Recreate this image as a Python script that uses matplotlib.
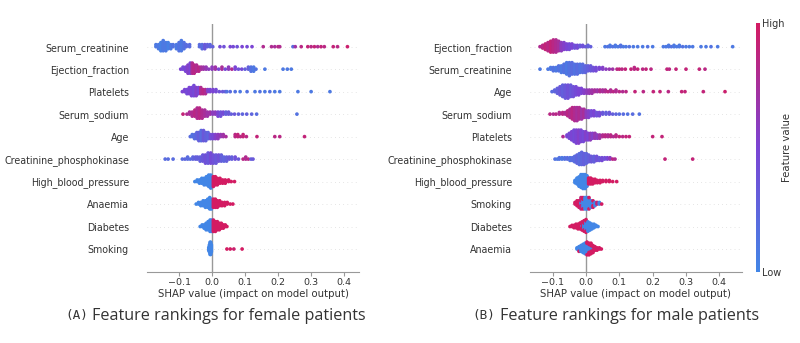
import numpy as np
import matplotlib; matplotlib.use("Agg")
import matplotlib.pyplot as plt
from matplotlib.colors import LinearSegmentedColormap

# each tuple: (shap value, number of points there, feature value 0=low 1=high)
FEMALE_FEATURES = ["Serum_creatinine", "Ejection_fraction", "Platelets", "Serum_sodium", "Age",
                   "Creatinine_phosphokinase", "High_blood_pressure", "Anaemia", "Diabetes", "Smoking"]
MALE_FEATURES = ["Ejection_fraction", "Serum_creatinine", "Age", "Serum_sodium", "Platelets",
                 "Creatinine_phosphokinase", "High_blood_pressure", "Smoking", "Diabetes", "Anaemia"]

F_SERUM_CREATININE = [(-0.170,2,0.1),(-0.162,3,0.1),(-0.155,5,0.05),(-0.148,6,0.1),(-0.140,5,0.1),(-0.133,4,0.05),
    (-0.125,3,0.1),(-0.118,2,0.15),(-0.108,3,0.1),(-0.100,5,0.15),(-0.093,6,0.1),(-0.085,4,0.15),(-0.078,2,0.2),
    (-0.068,2,0.2),(-0.038,2,0.2),(-0.030,3,0.2),(-0.022,3,0.35),(-0.014,2,0.3),(-0.006,2,0.25),(0.002,1,0.3),
    (0.024,1,0.45),(0.036,1,0.4),(0.055,1,0.5),(0.064,1,0.45),(0.076,1,0.4),(0.091,1,0.5),(0.106,1,0.45),(0.121,1,0.5),
    (0.155,1,0.8),(0.180,1,0.8),(0.190,1,0.75),(0.200,1,0.85),(0.205,1,0.8),(0.245,1,0.2),(0.252,1,0.7),(0.270,1,0.85),
    (0.290,1,0.9),(0.300,1,0.85),(0.310,1,0.9),(0.320,1,0.8),(0.330,1,0.9),(0.340,1,0.85),(0.367,1,0.9),(0.380,1,0.85),
    (0.410,1,0.95)]
F_EJECTION_FRACTION = [(-0.095,1,0.5),(-0.088,2,0.45),(-0.080,3,0.5),(-0.073,5,0.55),(-0.066,6,0.5),(-0.060,6,0.8),
    (-0.054,5,0.85),(-0.047,4,0.8),(-0.040,3,0.85),(-0.033,2,0.75),(-0.026,2,0.7),(-0.018,2,0.65),(-0.010,1,0.6),
    (0.000,2,0.6),(0.010,2,0.7),(0.020,1,0.5),(0.030,2,0.75),(0.040,1,0.45),(0.050,2,0.6),(0.060,1,0.8),(0.070,2,0.5),
    (0.080,1,0.4),(0.090,1,0.45),(0.100,1,0.3),(0.110,2,0.3),(0.118,3,0.15),(0.126,3,0.1),(0.133,1,0.15),
    (0.160,1,0.1),(0.215,1,0.1),(0.228,1,0.1),(0.240,1,0.1)]
F_PLATELETS = [(-0.090,1,0.5),(-0.083,2,0.5),(-0.076,3,0.45),(-0.069,4,0.5),(-0.062,5,0.5),(-0.055,6,0.45),
    (-0.048,5,0.55),(-0.041,4,0.5),(-0.034,4,0.8),(-0.027,3,0.85),(-0.020,3,0.8),(-0.013,2,0.55),(-0.006,2,0.5),
    (0.003,2,0.5),(0.012,2,0.45),(0.022,1,0.4),(0.032,1,0.35),(0.040,1,0.3),(0.045,1,0.15),(0.055,1,0.2),(0.070,1,0.15),
    (0.085,1,0.1),(0.106,1,0.15),(0.130,1,0.1),(0.145,1,0.15),(0.160,1,0.1),(0.175,1,0.15),(0.190,1,0.1),(0.205,1,0.1),
    (0.260,1,0.1),(0.300,1,0.1),(0.357,1,0.1)]
F_SERUM_SODIUM = [(-0.088,1,0.9),(-0.076,1,0.8),(-0.068,2,0.75),(-0.060,3,0.8),(-0.052,4,0.85),(-0.045,6,0.8),
    (-0.038,6,0.85),(-0.030,5,0.8),(-0.022,4,0.75),(-0.014,3,0.7),(-0.006,2,0.7),(0.002,2,0.6),(0.010,2,0.6),
    (0.018,3,0.5),(0.026,3,0.4),(0.034,2,0.45),(0.042,2,0.3),(0.050,2,0.35),(0.058,1,0.3),(0.068,1,0.35),(0.080,1,0.3),
    (0.092,1,0.25),(0.105,1,0.3),(0.120,1,0.25),(0.135,1,0.2),(0.257,1,0.15)]
F_AGE = [(-0.066,1,0.2),(-0.060,2,0.15),(-0.053,3,0.2),(-0.046,4,0.25),(-0.040,5,0.3),(-0.033,6,0.2),(-0.026,6,0.35),
    (-0.019,5,0.3),(-0.012,4,0.25),(-0.005,3,0.4),(0.002,3,0.45),(0.010,3,0.55),(0.018,3,0.6),(0.026,2,0.65),
    (0.034,2,0.7),(0.042,1,0.75),(0.070,2,0.85),(0.078,2,0.9),(0.086,1,0.85),(0.094,2,0.9),(0.104,1,0.85),
    (0.136,1,0.9),(0.190,1,0.85),(0.205,1,0.85),(0.280,1,0.9)]
F_CPK = [(-0.142,1,0.2),(-0.133,1,0.2),(-0.118,1,0.2),(-0.090,1,0.2),(-0.082,1,0.25),(-0.074,2,0.2),(-0.066,1,0.2),
    (-0.058,2,0.25),(-0.050,2,0.3),(-0.044,2,0.3),(-0.036,3,0.3),(-0.028,4,0.35),(-0.020,5,0.4),(-0.012,6,0.35),
    (-0.004,6,0.45),(0.004,5,0.4),(0.012,5,0.35),(0.020,4,0.4),(0.028,4,0.3),(0.036,3,0.25),(0.044,3,0.3),
    (0.052,2,0.35),(0.060,2,0.3),(0.070,2,0.4),(0.080,1,0.35),(0.094,1,0.85),(0.102,2,0.8),(0.110,1,0.85),
    (0.118,1,0.3),(0.124,1,0.35)]
F_HBP = [(-0.052,1,0),(-0.045,2,0),(-0.038,3,0),(-0.031,4,0),(-0.024,5,0),(-0.017,6,0),(-0.010,8,0),(-0.004,9,0),
    (0.004,7,1),(0.010,6,1),(0.016,5,1),(0.024,4,1),(0.032,3,1),(0.040,3,1),(0.050,2,1),(0.058,1,1),(0.068,1,1)]
F_ANAEMIA = [(-0.048,1,0),(-0.041,2,0),(-0.034,3,0),(-0.027,4,0),(-0.020,5,0),(-0.013,6,0),(-0.007,8,0),(-0.002,7,0),
    (0.004,6,1),(0.010,6,1),(0.016,5,1),(0.023,4,1),(0.030,3,1),(0.038,3,1),(0.046,2,1),(0.055,1,1),(0.063,1,1)]
F_DIABETES = [(-0.036,1,0),(-0.030,2,0),(-0.024,3,0),(-0.018,5,0),(-0.012,6,0),(-0.006,8,0),(-0.001,8,0),
    (0.004,8,1),(0.010,7,1),(0.016,6,1),(0.022,5,1),(0.028,4,1),(0.034,3,1),(0.040,2,1),(0.045,1,1)]
F_SMOKING = [(-0.010,3,0),(-0.008,6,0),(-0.006,10,0),(-0.004,10,0),(-0.002,6,0),
    (0.045,1,1),(0.055,1,1),(0.066,1,0.95),(0.091,1,1)]

M_EJECTION_FRACTION = [(-0.138,1,0.8),(-0.130,3,0.85),(-0.122,5,0.9),(-0.114,7,0.85),(-0.106,9,0.9),(-0.098,10,0.85),
    (-0.090,10,0.8),(-0.082,8,0.75),(-0.074,7,0.6),(-0.066,6,0.55),(-0.058,5,0.5),(-0.050,5,0.45),(-0.042,4,0.5),
    (-0.034,3,0.4),(-0.026,3,0.45),(-0.018,2,0.35),(-0.010,2,0.4),(-0.002,1,0.35),(0.006,2,0.3),(0.014,1,0.3),
    (0.057,1,0.1),(0.065,1,0.15),(0.072,2,0.1),(0.080,1,0.15),(0.088,2,0.1),(0.096,1,0.1),(0.104,2,0.15),(0.112,1,0.1),
    (0.120,1,0.1),(0.130,1,0.15),(0.142,1,0.1),(0.155,1,0.1),(0.170,1,0.1),(0.185,1,0.15),(0.200,1,0.1),
    (0.232,1,0.1),(0.240,1,0.1),(0.248,2,0.1),(0.256,1,0.15),(0.264,2,0.1),(0.272,1,0.1),(0.280,2,0.1),(0.290,1,0.15),
    (0.300,1,0.1),(0.310,1,0.1),(0.320,1,0.1),(0.345,1,0.1),(0.360,1,0.1),(0.375,1,0.15),(0.395,1,0.1),(0.440,1,0.1)]
M_SERUM_CREATININE = [(-0.138,1,0.1),(-0.114,1,0.1),(-0.106,2,0.1),(-0.098,3,0.15),(-0.090,3,0.1),(-0.082,4,0.15),
    (-0.074,5,0.1),(-0.066,6,0.15),(-0.058,8,0.1),(-0.050,9,0.15),(-0.042,8,0.2),(-0.034,7,0.15),(-0.026,7,0.2),
    (-0.018,6,0.15),(-0.010,6,0.2),(-0.002,5,0.25),(0.006,4,0.3),(0.014,4,0.35),(0.022,3,0.4),(0.030,3,0.45),
    (0.040,2,0.5),(0.050,2,0.55),(0.060,1,0.6),(0.070,1,0.65),(0.080,1,0.7),(0.093,1,0.85),(0.100,1,0.9),
    (0.108,1,0.85),(0.118,1,0.9),(0.135,1,0.9),(0.145,2,0.85),(0.155,1,0.9),(0.170,1,0.85),(0.180,1,0.9),
    (0.195,1,0.85),(0.243,1,0.9),(0.250,1,0.85),(0.270,1,0.9),(0.300,1,0.9),(0.340,1,0.9),(0.357,1,0.85)]
M_AGE = [(-0.102,1,0.2),(-0.094,2,0.25),(-0.086,4,0.3),(-0.078,6,0.35),(-0.070,8,0.3),(-0.062,9,0.35),(-0.054,9,0.4),
    (-0.046,8,0.35),(-0.038,7,0.4),(-0.030,6,0.45),(-0.022,5,0.5),(-0.014,4,0.5),(-0.006,3,0.55),(0.002,3,0.6),
    (0.010,3,0.65),(0.018,3,0.7),(0.026,2,0.75),(0.034,2,0.7),(0.042,2,0.8),(0.050,2,0.75),(0.058,2,0.8),
    (0.066,1,0.85),(0.074,2,0.8),(0.082,1,0.85),(0.090,2,0.8),(0.100,1,0.85),(0.110,1,0.8),(0.120,1,0.85),
    (0.147,1,0.9),(0.172,1,0.85),(0.202,1,0.9),(0.222,1,0.9),(0.247,1,0.85),(0.287,1,0.9),(0.297,1,0.9),
    (0.352,1,0.9),(0.417,1,0.95)]
M_SERUM_SODIUM = [(-0.108,1,0.85),(-0.098,1,0.8),(-0.090,1,0.85),(-0.080,2,0.8),(-0.070,2,0.85),(-0.062,2,0.8),
    (-0.055,4,0.85),(-0.048,6,0.8),(-0.041,8,0.85),(-0.034,9,0.8),(-0.027,9,0.75),(-0.020,8,0.8),(-0.013,7,0.7),
    (-0.006,6,0.75),(0.001,5,0.6),(0.008,5,0.55),(0.016,4,0.45),(0.024,4,0.5),(0.032,3,0.4),(0.040,3,0.45),
    (0.050,2,0.35),(0.060,2,0.3),(0.070,2,0.35),(0.080,1,0.3),(0.090,1,0.25),(0.100,1,0.2),(0.112,1,0.2),
    (0.125,1,0.15),(0.140,1,0.2),(0.160,1,0.15)]
M_PLATELETS = [(-0.069,1,0.8),(-0.057,2,0.5),(-0.050,4,0.45),(-0.043,6,0.5),(-0.036,8,0.45),(-0.029,9,0.5),
    (-0.022,9,0.55),(-0.015,8,0.5),(-0.008,7,0.45),(-0.001,6,0.55),(0.006,5,0.5),(0.013,5,0.6),(0.020,4,0.55),
    (0.027,4,0.65),(0.034,3,0.6),(0.041,3,0.7),(0.050,2,0.8),(0.058,2,0.85),(0.066,2,0.8),(0.074,2,0.85),
    (0.082,1,0.8),(0.090,2,0.85),(0.100,1,0.9),(0.110,1,0.85),(0.120,1,0.9),(0.130,1,0.9),(0.200,1,0.9),(0.228,1,0.9)]
M_CPK = [(-0.093,1,0.15),(-0.086,1,0.1),(-0.080,2,0.15),(-0.072,2,0.1),(-0.064,2,0.15),(-0.056,2,0.2),(-0.048,3,0.15),
    (-0.041,3,0.2),(-0.034,5,0.2),(-0.027,7,0.25),(-0.020,9,0.2),(-0.013,10,0.25),(-0.006,9,0.3),(0.001,8,0.25),
    (0.008,6,0.3),(0.016,5,0.35),(0.024,5,0.3),(0.032,4,0.4),(0.040,3,0.35),(0.048,3,0.45),(0.056,2,0.4),
    (0.064,2,0.5),(0.072,2,0.6),(0.080,1,0.85),(0.087,1,0.8),(0.237,1,0.9),(0.320,1,0.9)]
M_HBP = [(-0.033,3,0),(-0.027,6,0),(-0.021,9,0),(-0.015,12,0),(-0.009,13,0),(-0.003,13,0),(0.003,10,0),
    (0.008,6,1),(0.014,6,1),(0.020,5,1),(0.027,4,1),(0.034,3,1),(0.042,3,1),(0.050,2,1),(0.060,2,1),(0.070,2,1),
    (0.080,1,1),(0.092,1,1)]
M_SMOKING = [(-0.033,2,1),(-0.027,4,1),(-0.021,5,1),(-0.015,2,0),(-0.015,6,0.9),(-0.009,5,0),(-0.009,3,1),
    (-0.003,8,0),(0.003,8,0),(0.009,6,0),(0.009,2,1),(0.015,5,0),(0.021,2,0),(0.021,3,1),(0.027,3,0),(0.033,2,0.9),
    (0.040,2,0),(0.047,1,1)]
M_DIABETES = [(-0.048,1,1),(-0.042,2,1),(-0.036,3,1),(-0.030,4,1),(-0.024,5,1),(-0.018,6,1),(-0.012,2,0),(-0.012,6,1),
    (-0.006,5,0),(-0.006,5,1),(0.000,8,0),(0.000,4,1),(0.006,9,0),(0.012,7,0),(0.018,5,0),(0.024,4,0),(0.030,2,0),
    (0.036,1,0)]
M_ANAEMIA = [(-0.027,2,0),(-0.021,4,0),(-0.021,1,1),(-0.015,6,0),(-0.009,8,0),(-0.003,10,0),(0.003,9,0),(0.003,3,1),
    (0.009,6,0),(0.009,5,1),(0.015,4,0),(0.015,6,1),(0.021,2,0),(0.021,5,1),(0.027,4,1),(0.033,3,1),(0.040,2,1),
    (0.046,1,1)]

FEMALE = [F_SERUM_CREATININE, F_EJECTION_FRACTION, F_PLATELETS, F_SERUM_SODIUM, F_AGE,
          F_CPK, F_HBP, F_ANAEMIA, F_DIABETES, F_SMOKING]
MALE = [M_EJECTION_FRACTION, M_SERUM_CREATININE, M_AGE, M_SERUM_SODIUM, M_PLATELETS,
        M_CPK, M_HBP, M_SMOKING, M_DIABETES, M_ANAEMIA]

CMAP = LinearSegmentedColormap.from_list("rb", ["#4286e6", "#7b44d4", "#d31b62"])
GREY = "#333333"


def swarm_offsets(xs, row_height=0.4, nbins=100):
    # shap-style beeswarm: stack points that fall into the same x bin
    quant = np.round(nbins*(xs-xs.min())/(xs.max()-xs.min()+1e-8))
    ys = np.zeros(len(xs)); layer = 0; last = None
    for i in np.argsort(quant, kind="stable"):
        if quant[i] != last: layer = 0
        ys[i] = np.ceil(layer/2)*((layer % 2)*2-1)
        layer += 1; last = quant[i]
    return ys*0.9*(row_height/np.max(ys+1))


def beeswarm(ax, rows, names, xlim):
    n = len(names)
    for k, pts in enumerate(rows):
        pos = n-1-k
        xs = np.repeat([p[0] for p in pts], [p[1] for p in pts])
        cs = np.repeat([p[2] for p in pts], [p[1] for p in pts])
        ax.axhline(pos, color="#cccccc", lw=0.5, dashes=(1, 5), zorder=-1)
        ax.scatter(xs, pos+swarm_offsets(xs), c=cs, cmap=CMAP, vmin=0, vmax=1, s=7, linewidths=0, zorder=3)
    ax.axvline(0, color="#999999", lw=1, zorder=1)
    ax.set_yticks(range(n)); ax.set_yticklabels(names[::-1])
    ax.set_ylim(-1, n); ax.set_xlim(*xlim)
    ax.set_xticks([-0.1, 0, 0.1, 0.2, 0.3, 0.4])
    for s in ("left", "right", "top"): ax.spines[s].set_visible(False)
    ax.spines["bottom"].set_color("#999999")
    ax.tick_params(axis="y", length=0, pad=13, labelsize=6.85, labelcolor=GREY)
    ax.tick_params(axis="x", length=3, color="#999999", labelsize=6.8, labelcolor=GREY, pad=2)
    ax.set_xlabel("SHAP value (impact on model output)", fontsize=7.3, color=GREY, labelpad=1)


fig = plt.figure(figsize=(8, 3.43), dpi=100)
W, H = 800, 343
bot, top = 271.5, 24.2
axl = fig.add_axes([147/W, (H-bot)/H, 212/W, (bot-top)/H])
axr = fig.add_axes([530/W, (H-bot)/H, 212/W, (bot-top)/H])
beeswarm(axl, FEMALE, FEMALE_FEATURES, (-0.197, 0.445))
beeswarm(axr, MALE, MALE_FEATURES, (-0.168, 0.468))

cax = fig.add_axes([756/W, (H-272)/H, 3.5/W, (272-23)/H])
cb = fig.colorbar(plt.cm.ScalarMappable(cmap=CMAP), cax=cax, ticks=[0, 1])
cb.outline.set_visible(False)
cb.set_ticklabels(["Low", "High"])
cax.tick_params(length=0, labelsize=7, labelcolor=GREY, pad=2)
cb.set_label("Feature value", size=7.3, color=GREY, labelpad=-2)

# captions under each panel
fig.text(88/W, 1-316/H, "(A)", ha="right", va="center", fontsize=9.2, family="DejaVu Sans Mono", color=GREY)
fig.text(92/W, 1-316/H, "Feature rankings for female patients", ha="left", va="center",
         fontsize=11.6, family="Open Sans", color=GREY)
fig.text(495/W, 1-316/H, "(B)", ha="right", va="center", fontsize=9.2, family="DejaVu Sans Mono", color=GREY)
fig.text(500/W, 1-316/H, "Feature rankings for male patients", ha="left", va="center",
         fontsize=11.6, family="Open Sans", color=GREY)

fig.savefig("out.png", dpi=100)
